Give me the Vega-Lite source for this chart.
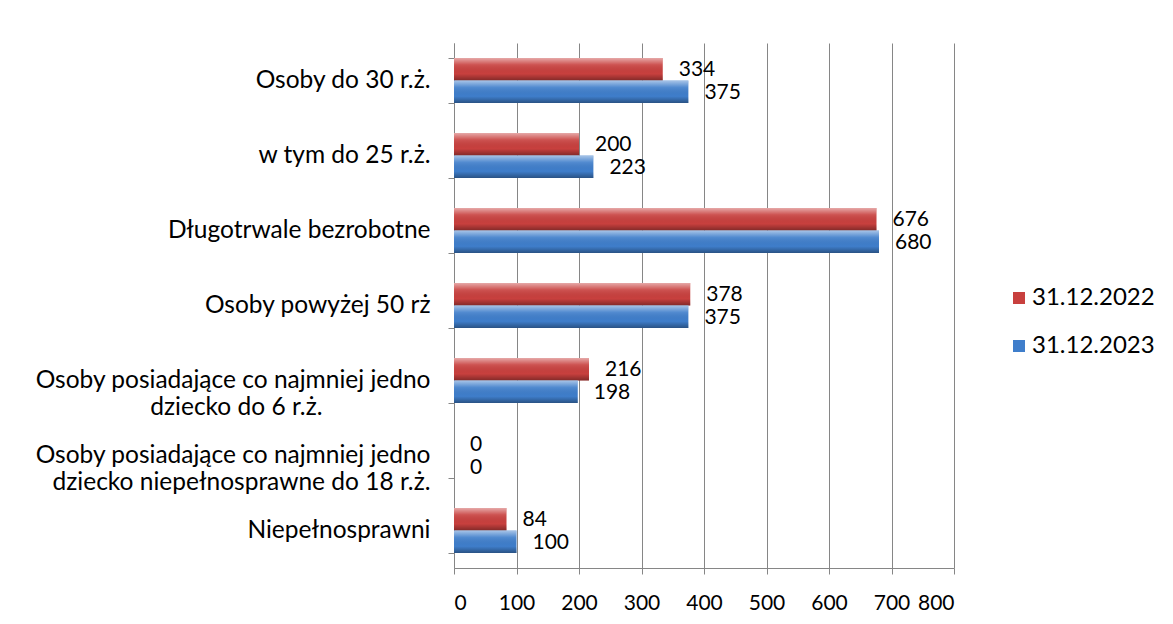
{
  "$schema": "https://vega.github.io/schema/vega-lite/v6.json",
  "autosize": "none",
  "width": 500,
  "height": 525,
  "padding": {"left": 454, "top": 43, "right": 219, "bottom": 56},
  "background": "white",
  "config": {
    "font": "Lato",
    "view": {"stroke": null}
  },
  "data": {
    "values": [
      {"cat": "Osoby do 30 r.ż.", "series": "31.12.2022", "value": 334},
      {"cat": "Osoby do 30 r.ż.", "series": "31.12.2023", "value": 375},
      {"cat": "w tym do 25 r.ż.", "series": "31.12.2022", "value": 200},
      {"cat": "w tym do 25 r.ż.", "series": "31.12.2023", "value": 223},
      {"cat": "Długotrwale bezrobotne", "series": "31.12.2022", "value": 676},
      {"cat": "Długotrwale bezrobotne", "series": "31.12.2023", "value": 680},
      {"cat": "Osoby powyżej 50 rż", "series": "31.12.2022", "value": 378},
      {"cat": "Osoby powyżej 50 rż", "series": "31.12.2023", "value": 375},
      {"cat": "Osoby posiadające co najmniej jedno|dziecko do 6 r.ż.\u2800\u2800\u2800\u2800\u2800\u2800", "series": "31.12.2022", "value": 216},
      {"cat": "Osoby posiadające co najmniej jedno|dziecko do 6 r.ż.\u2800\u2800\u2800\u2800\u2800\u2800", "series": "31.12.2023", "value": 198},
      {"cat": "Osoby posiadające co najmniej jedno|dziecko niepełnosprawne do 18 r.ż.", "series": "31.12.2022", "value": 0},
      {"cat": "Osoby posiadające co najmniej jedno|dziecko niepełnosprawne do 18 r.ż.", "series": "31.12.2023", "value": 0},
      {"cat": "Niepełnosprawni", "series": "31.12.2022", "value": 84},
      {"cat": "Niepełnosprawni", "series": "31.12.2023", "value": 100}
    ]
  },
  "encoding": {
    "y": {
      "field": "cat", "type": "nominal", "sort": null,
      "scale": {"paddingInner": 0.4, "paddingOuter": 0.2},
      "axis": {
        "title": null,
        "labelExpr": "split(datum.label, '|')",
        "labelFontSize": 24.5,
        "labelColor": "#000000",
        "labelLineHeight": 27,
        "labelPadding": 18,
        "labelLimit": 600,
        "tickBand": "extent",
        "tickSize": 6,
        "tickColor": "#868686",
        "domainColor": "#868686",
        "grid": false
      }
    },
    "yOffset": {"field": "series", "type": "nominal", "sort": ["31.12.2022", "31.12.2023"]},
    "x": {
      "field": "value", "type": "quantitative",
      "scale": {"domain": [0, 800], "nice": false},
      "axis": {
        "title": null,
        "values": [0, 100, 200, 300, 400, 500, 600, 700, 800],
        "labelFontSize": 21,
        "labelColor": "#000000",
        "labelPadding": 18,
        "labelOverlap": false,
        "tickSize": 6,
        "tickColor": "#868686",
        "domainColor": "#868686",
        "grid": true,
        "gridColor": "#868686",
        "gridWidth": 1
      }
    }
  },
  "layer": [
    {
      "mark": {"type": "bar"},
      "encoding": {
        "color": {
          "field": "series", "type": "nominal",
          "scale": {"domain": ["31.12.2022", "31.12.2023"], "range": ["#C8403E", "#3F7ECB"]},
          "legend": {
            "title": null,
            "orient": "none",
            "legendX": 553,
            "legendY": 243,
            "symbolType": "square",
            "symbolSize": 144,
            "symbolStrokeWidth": 0,
            "labelFontSize": 24,
            "labelColor": "#000000",
            "rowPadding": 24,
            "labelOffset": 1
          }
        }
      }
    },
    {
      "mark": {
        "type": "bar",
        "fill": {
          "gradient": "linear", "x1": 0, "y1": 0, "x2": 0, "y2": 1,
          "stops": [
            {"offset": 0, "color": "rgba(255,255,255,0.55)"},
            {"offset": 0.3, "color": "rgba(255,255,255,0.1)"},
            {"offset": 0.7, "color": "rgba(0,0,0,0)"},
            {"offset": 1, "color": "rgba(0,0,0,0.35)"}
          ]
        }
      }
    },
    {
      "mark": {"type": "text", "align": "left", "baseline": "middle", "dx": 16, "dy": 1, "fontSize": 21, "color": "#000000"},
      "encoding": {"text": {"field": "value", "type": "quantitative"}}
    }
  ]
}
